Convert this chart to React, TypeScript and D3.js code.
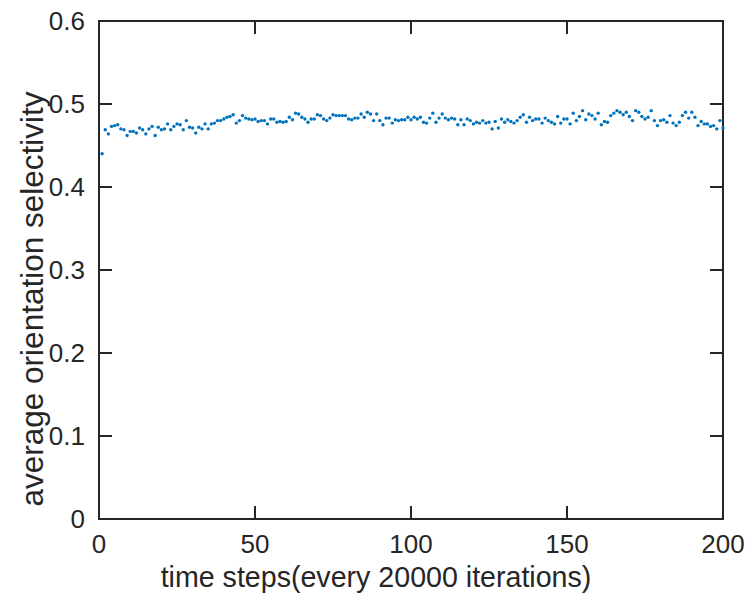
import React from "react";
import * as d3 from "d3";

const steps: number[] = Array.from({ length: 200 }, (_, i) => i + 1);
const selectivity: number[] = [
  0.440, 0.469, 0.464, 0.473, 0.474, 0.475, 0.470, 0.469, 0.462, 0.467,
  0.467, 0.465, 0.471, 0.469, 0.464, 0.470, 0.473, 0.462, 0.472, 0.469,
  0.470, 0.476, 0.469, 0.473, 0.476, 0.475, 0.469, 0.480, 0.472, 0.471,
  0.465, 0.472, 0.470, 0.476, 0.470, 0.476, 0.477, 0.480, 0.480, 0.482,
  0.484, 0.485, 0.487, 0.477, 0.480, 0.486, 0.483, 0.482, 0.481, 0.482,
  0.479, 0.480, 0.480, 0.476, 0.482, 0.482, 0.478, 0.479, 0.478, 0.479,
  0.484, 0.481, 0.489, 0.488, 0.484, 0.482, 0.478, 0.482, 0.482, 0.487,
  0.486, 0.482, 0.480, 0.483, 0.487, 0.486, 0.486, 0.486, 0.486, 0.482,
  0.481, 0.483, 0.483, 0.488, 0.484, 0.490, 0.488, 0.480, 0.488, 0.480,
  0.475, 0.483, 0.483, 0.477, 0.481, 0.480, 0.481, 0.481, 0.484, 0.481,
  0.484, 0.482, 0.484, 0.478, 0.477, 0.483, 0.489, 0.478, 0.483, 0.488,
  0.483, 0.481, 0.483, 0.482, 0.475, 0.481, 0.475, 0.482, 0.480, 0.476,
  0.478, 0.477, 0.480, 0.477, 0.478, 0.470, 0.479, 0.471, 0.482, 0.478,
  0.481, 0.479, 0.477, 0.480, 0.484, 0.487, 0.478, 0.484, 0.480, 0.482,
  0.482, 0.477, 0.483, 0.480, 0.478, 0.476, 0.485, 0.477, 0.482, 0.482,
  0.476, 0.489, 0.480, 0.485, 0.492, 0.481, 0.488, 0.486, 0.482, 0.489,
  0.475, 0.479, 0.478, 0.486, 0.489, 0.492, 0.490, 0.487, 0.490, 0.485,
  0.480, 0.492, 0.490, 0.485, 0.482, 0.484, 0.492, 0.480, 0.474, 0.480,
  0.481, 0.478, 0.486, 0.477, 0.474, 0.478, 0.486, 0.490, 0.483, 0.490,
  0.484, 0.474, 0.479, 0.476, 0.476, 0.473, 0.474, 0.470, 0.480, 0.471,
];
const xTicks: number[] = [0, 50, 100, 150, 200];
const xTickLabels: string[] = ["0", "50", "100", "150", "200"];
const yTicks: number[] = [0, 0.1, 0.2, 0.3, 0.4, 0.5, 0.6];
const yTickLabels: string[] = ["0", "0.1", "0.2", "0.3", "0.4", "0.5", "0.6"];
const xLabel = "time steps(every 20000 iterations)";
const yLabel = "average orientation selectivity";

export default function App() {
  const W = 746, H = 594;
  const left = 99, right = 723, top = 21, bottom = 519;
  const x = d3.scaleLinear().domain([0, 200]).range([left, right]);
  const y = d3.scaleLinear().domain([0, 0.6]).range([bottom, top]);
  const axisColor = "#262626";
  const font = "'Liberation Sans', Arial, Helvetica, sans-serif";
  const tickLen = 13;
  const sw = 2;

  return (
    <svg width={W} height={H} style={{ position: "absolute", left: 0, top: 0, background: "#fff" }}>
      <rect x={0} y={0} width={W} height={H} fill="#fff" />
      {/* frame */}
      <rect x={left} y={top} width={right - left} height={bottom - top} fill="none" stroke={axisColor} strokeWidth={sw} />
      {/* x ticks */}
      {xTicks.map((t, i) => (
        <g key={"xt" + i}>
          <line x1={x(t)} x2={x(t)} y1={bottom} y2={bottom - tickLen} stroke={axisColor} strokeWidth={sw} />
          <line x1={x(t)} x2={x(t)} y1={top} y2={top + tickLen} stroke={axisColor} strokeWidth={sw} />
          <text x={x(t)} y={553} textAnchor="middle" fontFamily={font} fontSize={26} fill={axisColor}>
            {xTickLabels[i]}
          </text>
        </g>
      ))}
      {/* y ticks */}
      {yTicks.map((t, i) => (
        <g key={"yt" + i}>
          <line x1={left} x2={left + tickLen} y1={y(t)} y2={y(t)} stroke={axisColor} strokeWidth={sw} />
          <line x1={right} x2={right - tickLen} y1={y(t)} y2={y(t)} stroke={axisColor} strokeWidth={sw} />
          <text x={85} y={y(t)} dy="0.35em" textAnchor="end" fontFamily={font} fontSize={26} fill={axisColor}>
            {yTickLabels[i]}
          </text>
        </g>
      ))}
      {/* labels */}
      <text x={376} y={587} textAnchor="middle" fontFamily={font} fontSize={28.6} fill={axisColor}>
        {xLabel}
      </text>
      <text
        transform={`translate(43, 299) rotate(-90)`}
        textAnchor="middle"
        fontFamily={font}
        fontSize={31.5}
        fill={axisColor}
      >
        {yLabel}
      </text>
      {/* points */}
      {selectivity.map((v, i) => (
        <circle key={"p" + i} cx={x(steps[i])} cy={y(v)} r={1.7} fill="#0072BD" />
      ))}
    </svg>
  );
}
